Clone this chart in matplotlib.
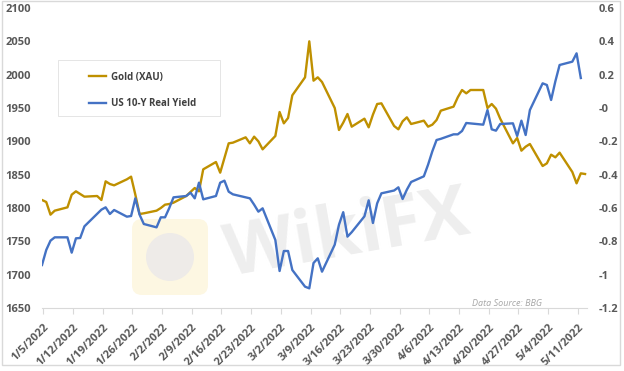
import numpy as np
import pandas as pd
import matplotlib
matplotlib.use("Agg")
import matplotlib.pyplot as plt
from matplotlib.patches import Rectangle, Shadow, FancyBboxPatch, Circle
from matplotlib.lines import Line2D

plt.rcParams['font.family'] = ['Open Sans', 'DejaVu Sans']
plt.rcParams['font.weight'] = 'bold'

# gold spot (XAU), daily
gold_days = pd.bdate_range('2022-01-04', '2022-05-12')
gold = [1812, 1809, 1790, 1796, 1801, 1820, 1825, 1821, 1817, 1818,
        1812, 1840, 1836, 1834, 1843, 1847, 1820, 1791, 1792, 1796,
        1800, 1805, 1806, 1808, 1818, 1824, 1830, 1825, 1858, 1869,
        1853, 1875, 1897, 1898, 1906, 1897, 1907, 1900, 1888, 1908,
        1944, 1927, 1935, 1969, 1996, 2050, 1991, 1996, 1989, 1950,
        1917, 1928, 1941, 1922, 1934, 1921, 1940, 1956, 1957, 1923,
        1918, 1930, 1936,
        1926, 1931, 1922, 1925, 1932, 1946, 1952, 1966, 1977, 1972,
        1977, 1977, 1950, 1956, 1949, 1934, 1897, 1905, 1886, 1892, 1896,
        1863, 1867, 1880, 1876, 1883, 1854, 1837, 1852, 1851]

# US 10y real yield (%), bond market closed on these days
yield_holidays = ['2022-01-17', '2022-02-21', '2022-04-15']
yield_days = pd.bdate_range('2022-01-04', '2022-05-11').drop(pd.to_datetime(yield_holidays))
real_yield = [-0.942, -0.852, -0.796, -0.776, -0.776, -0.868, -0.782, -0.78, -0.71, -0.61,
              -0.596, -0.636, -0.612, -0.652, -0.648, -0.542, -0.64, -0.696, -0.716,
              -0.656, -0.656, -0.60, -0.536, -0.528, -0.508, -0.542, -0.448, -0.548, -0.528,
              -0.448, -0.436, -0.502, -0.518, -0.542, -0.58, -0.622, -0.602, -0.792,
              -0.978, -0.858, -0.858, -0.972, -1.072, -1.082, -0.93, -0.902, -0.982, -0.82,
              -0.70, -0.625, -0.772, -0.745, -0.65, -0.554, -0.69, -0.572, -0.512, -0.495,
              -0.476, -0.546, -0.49,
              -0.444, -0.41, -0.34, -0.26, -0.192, -0.185, -0.158, -0.158, -0.138, -0.09,
              -0.10, -0.012, -0.128, -0.136, -0.096, -0.092, -0.168, -0.076, -0.162, -0.012,
              0.148, 0.138, 0.048, 0.16, 0.258, 0.278, 0.328, 0.18]

tick_dates = pd.date_range('2022-01-05', '2022-05-11', freq='7D')
tick_labels = [f"{d.month}/{d.day}/{d.year}" for d in tick_dates]
gold_ticks = np.arange(1650, 2101, 50)
yield_ticks = np.round(np.arange(-1.2, 0.61, 0.2), 1)

GOLD_C = '#BF9000'
BLUE_C = '#4472C4'
LABEL_C = '#595959'
W, H = 624, 371

fig = plt.figure(figsize=(W / 100, H / 100), dpi=100)
fig.patch.set_facecolor('white')
ax = fig.add_axes([42 / W, 1 - 308 / H, (587 - 42) / W, 300 / H])
ax.patch.set_visible(False)
ax2 = ax.twinx()

# excel puts the points a little right of the day tick
shift = pd.Timedelta(hours=17)
ax.plot(gold_days + shift, gold, color=GOLD_C, lw=1.7, solid_joinstyle='round')
ax2.plot(yield_days + shift, real_yield, color=BLUE_C, lw=1.7, solid_joinstyle='round')

ax.set_xlim(pd.Timestamp('2022-01-04 17:00'), pd.Timestamp('2022-05-13 04:00'))
ax.set_ylim(1650, 2100)
ax.set_yticks(gold_ticks)
ax2.set_ylim(-1.2, 0.6)
ax2.set_yticks(yield_ticks)
ax2.set_yticklabels([f"{v:g}" for v in yield_ticks])

ax.set_xticks(tick_dates)
ax.set_xticklabels(tick_labels, rotation=45, ha='right', va='top', rotation_mode='anchor')

for a in (ax, ax2):
    for s in a.spines.values():
        s.set_visible(False)
ax.spines['bottom'].set_visible(True)
ax.spines['bottom'].set_color('#d9d9d9')
ax.tick_params(axis='y', length=0, pad=8, labelsize=8, labelcolor=LABEL_C)
ax2.tick_params(axis='y', length=0, pad=8.5, labelsize=8, labelcolor=LABEL_C)
ax.tick_params(axis='x', length=4, color='#d9d9d9', pad=6, labelsize=8, labelcolor=LABEL_C)

# watermark
ax.text(0.56, 0.24, 'WikiFX', transform=ax.transAxes, fontsize=52, color='#eeeeee',
        rotation=10, ha='center', va='center', zorder=0)
logo = FancyBboxPatch((1.32, 0.76), 0.76, 0.76, boxstyle='round,pad=0,rounding_size=0.1',
                      transform=fig.dpi_scale_trans, facecolor='#fdf7e2', edgecolor='none', zorder=-2)
fig.patches.append(logo)
fig.patches.append(Circle((1.70, 1.14), 0.24, transform=fig.dpi_scale_trans,
                          facecolor='#eeebe8', edgecolor='none', zorder=-1))

# legend box with shadow
box = Rectangle((58 / W, 1 - 116 / H), 162 / W, 56 / H, transform=fig.transFigure,
                facecolor='white', edgecolor='#e0e0e0', lw=0.6, zorder=4)
sh = Shadow(box, 2, -2, alpha=0.25, zorder=3.9)
fig.patches.append(sh)
fig.patches.append(box)
handles = [Line2D([], [], color=GOLD_C, lw=1.7), Line2D([], [], color=BLUE_C, lw=1.7)]
leg = fig.legend(handles, ['Gold (XAU)', 'US 10-Y Real Yield'], loc='upper left',
                 bbox_to_anchor=(84 / W, 1 - 67 / H), frameon=False, fontsize=7,
                 handlelength=1.8, handletextpad=0.5, labelspacing=1.6, borderpad=0,
                 labelcolor='#404040')
leg.set_zorder(6)

fig.text(472 / W, 1 - 303 / H, 'Data Source: BBG', fontsize=6.5, style='italic',
         weight='normal', color='#a6a6a6', va='center')

fig.patches.append(Rectangle((2 / W, 1 - 365 / H), 618 / W, 364 / H, transform=fig.transFigure,
                             fill=False, edgecolor='#d9d9d9', lw=1, zorder=10))

fig.savefig('out.png', dpi=100)
